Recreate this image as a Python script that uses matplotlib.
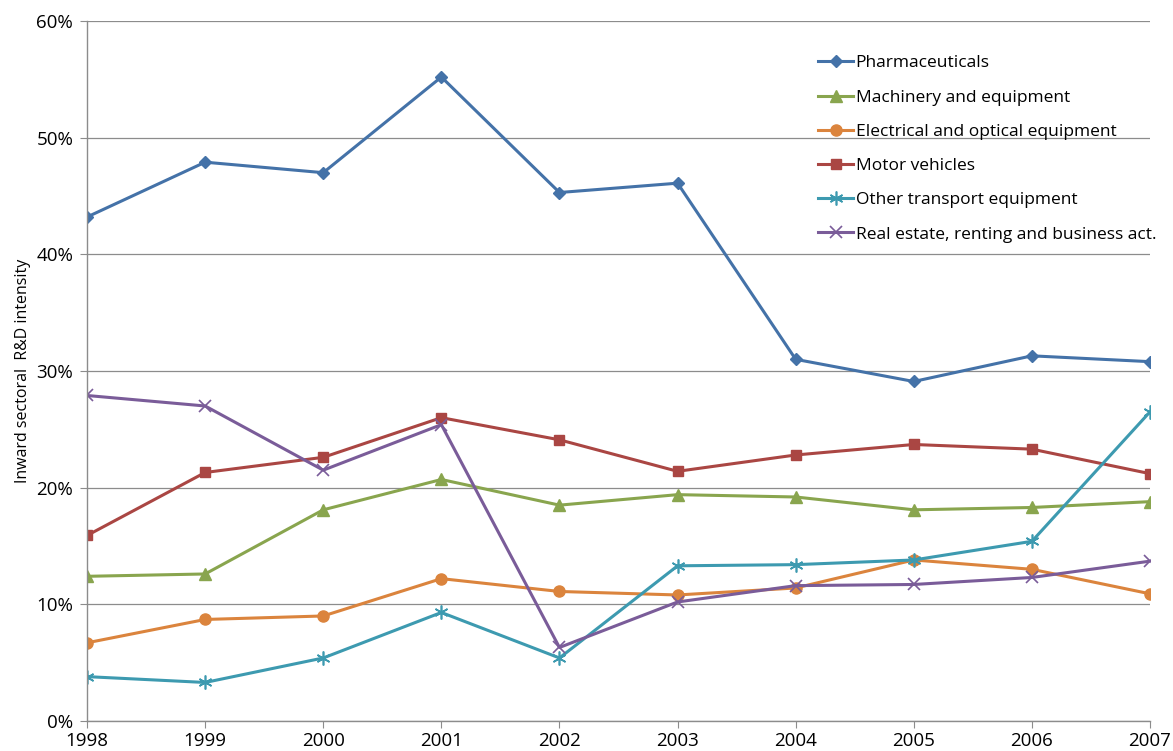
import matplotlib
matplotlib.use("Agg")
import matplotlib.pyplot as plt
from matplotlib.ticker import FuncFormatter

years = [1998, 1999, 2000, 2001, 2002, 2003, 2004, 2005, 2006, 2007]
pharma = [43.2, 47.9, 47.0, 55.2, 45.3, 46.1, 31.0, 29.1, 31.3, 30.8]
machinery = [12.4, 12.6, 18.1, 20.7, 18.5, 19.4, 19.2, 18.1, 18.3, 18.8]
electrical = [6.7, 8.7, 9.0, 12.2, 11.1, 10.8, 11.4, 13.8, 13.0, 10.9]
motor = [15.9, 21.3, 22.6, 26.0, 24.1, 21.4, 22.8, 23.7, 23.3, 21.2]
other_transport = [3.8, 3.3, 5.4, 9.3, 5.4, 13.3, 13.4, 13.8, 15.4, 26.5]
real_estate = [27.9, 27.0, 21.5, 25.4, 6.3, 10.2, 11.6, 11.7, 12.3, 13.7]

labels = ["Pharmaceuticals", "Machinery and equipment", "Electrical and optical equipment",
          "Motor vehicles", "Other transport equipment", "Real estate, renting and business act."]
series = [pharma, machinery, electrical, motor, other_transport, real_estate]
colors = ["#4472A8", "#89A54E", "#DB843D", "#AA4643", "#3D9AB0", "#7A5C99"]
markers = ["D", "^", "o", "s", (6, 2, 0), "x"]
msizes = [6, 8, 8, 7, 10, 9]

plt.rcParams['font.family'] = ['Open Sans', 'DejaVu Sans']

fig = plt.figure(figsize=(11.73, 7.51), dpi=100)
ax = fig.add_axes([0.0742, 0.040, 0.9062, 0.932])

for vals, lab, c, m, ms in zip(series, labels, colors, markers, msizes):
    ax.plot(years, vals, color=c, lw=2.2, marker=m, markersize=ms, label=lab,
            markeredgecolor=c, markerfacecolor=c, markeredgewidth=1.2 if m in ("x", (6, 2, 0)) else 1)

ax.set_xlim(1998, 2007)
ax.set_ylim(0, 60)
ax.set_yticks(range(0, 61, 10))
ax.set_xticks(years)
ax.yaxis.set_major_formatter(FuncFormatter(lambda v, p: f"{int(v)}%"))
ax.grid(axis='y', color='#8c8c8c', lw=0.9)
ax.set_axisbelow(True)
for s in ['top', 'right']:
    ax.spines[s].set_visible(False)
for s in ['left', 'bottom']:
    ax.spines[s].set_color('#8c8c8c')
    ax.spines[s].set_linewidth(1.0)
ax.tick_params(axis='both', colors='#8c8c8c', labelcolor='black', labelsize=13.5, length=5, direction='out')
ax.tick_params(axis='x', pad=3)
ax.tick_params(axis='y', pad=5)
ax.set_ylabel("Inward sectoral  R&D intensity", fontsize=11.5, labelpad=4)

leg = ax.legend(loc='upper left', bbox_to_anchor=(0.688, 0.951), frameon=False, fontsize=12.5,
                handlelength=2.0, handletextpad=0.15, labelspacing=1.04, borderaxespad=0,
                borderpad=0)

fig.savefig("out.png", dpi=100)
